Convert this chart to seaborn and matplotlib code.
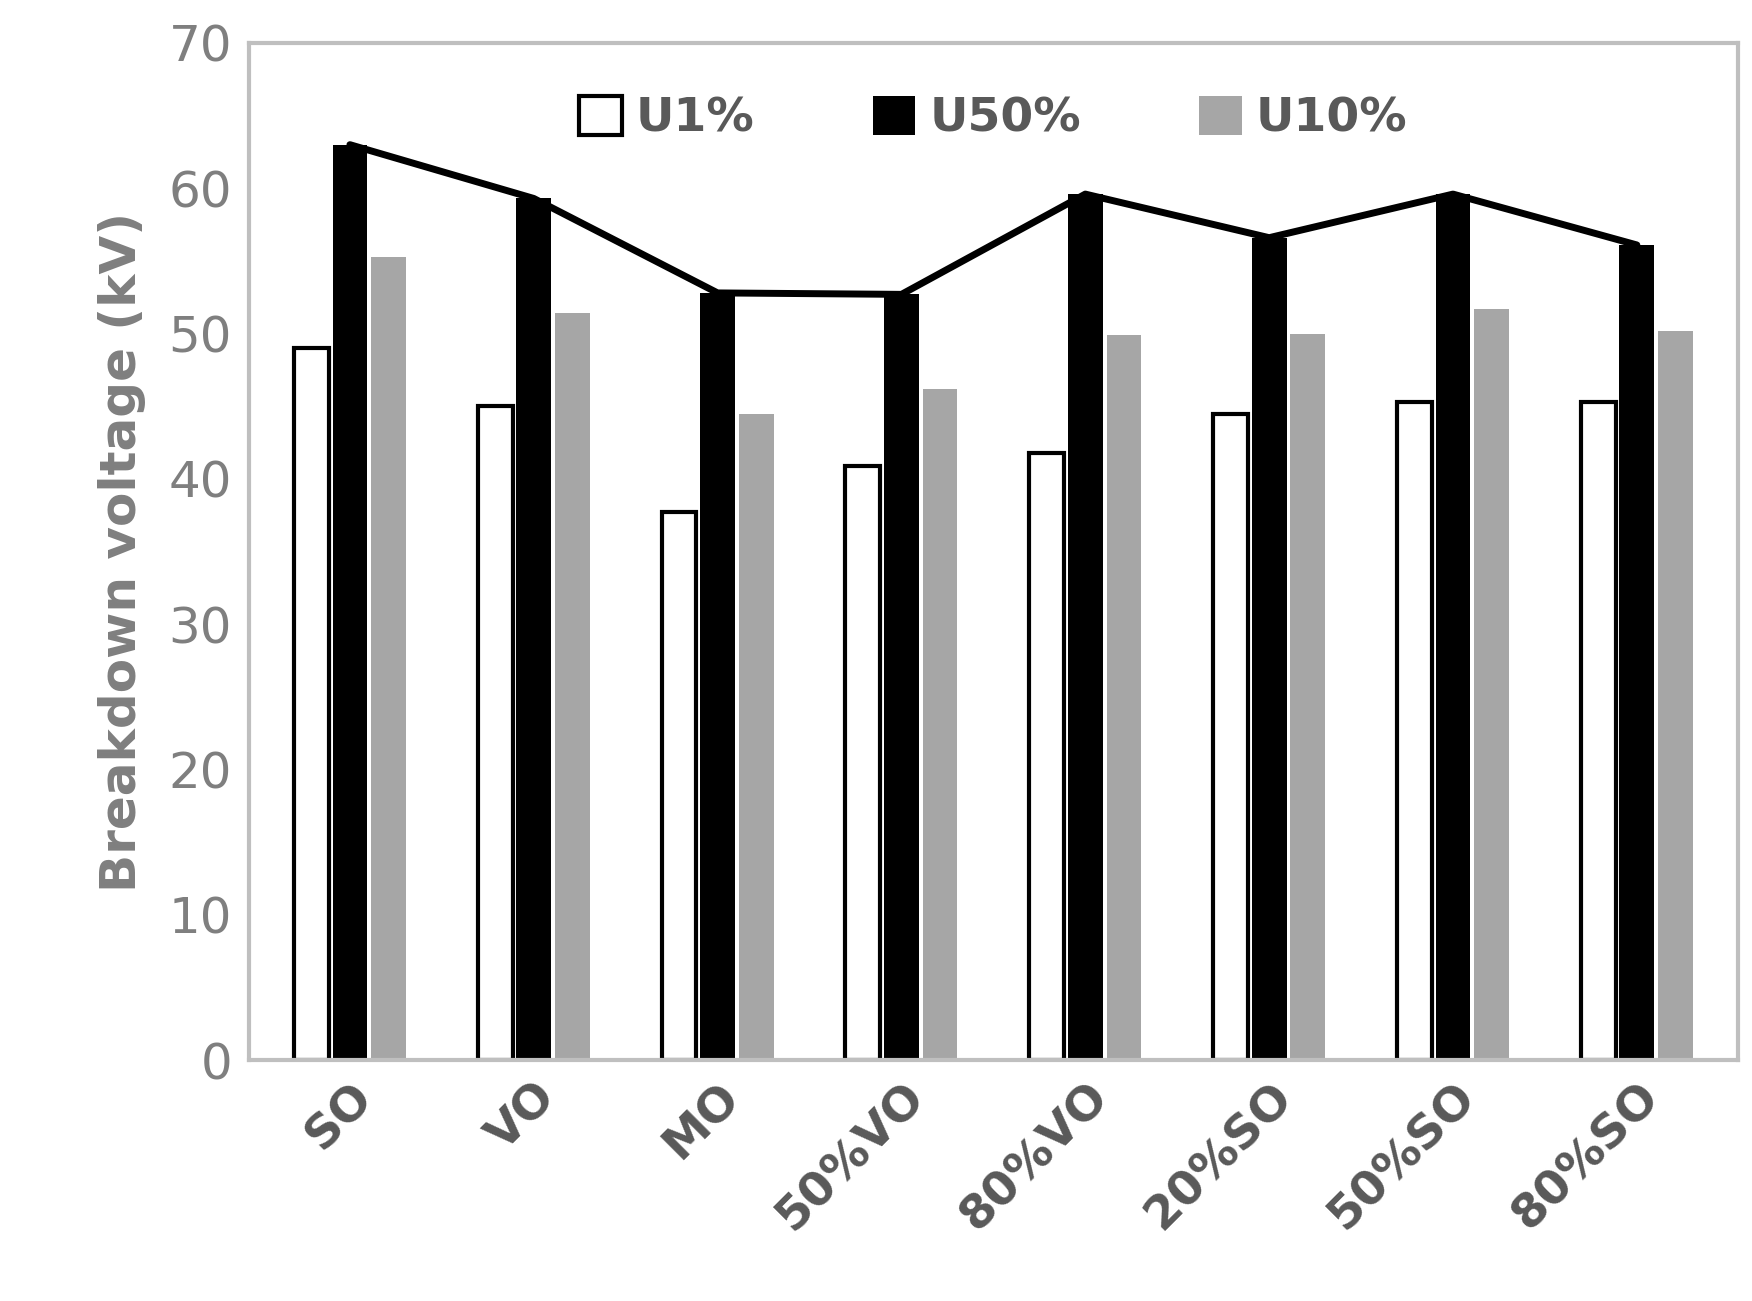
import numpy as np
import pandas as pd
import matplotlib
matplotlib.use("Agg")
import matplotlib.pyplot as plt
import seaborn as sns

categories = ["SO", "VO", "MO", "50%VO", "80%VO", "20%SO", "50%SO", "80%SO"]
u1 = [49.0, 45.0, 37.7, 40.9, 41.8, 44.5, 45.3, 45.3]
u50 = [63.0, 59.3, 52.8, 52.7, 59.6, 56.6, 59.6, 56.1]
u10 = [55.3, 51.4, 44.5, 46.2, 49.9, 50.0, 51.7, 50.2]
series = ["U1%", "U50%", "U10%"]

sns.set_theme(style="white")
plt.rcParams['font.family'] = ['DejaVu Sans']

df = pd.DataFrame({
    "cat": categories * 3,
    "val": u1 + u50 + u10,
    "ser": [series[0]] * 8 + [series[1]] * 8 + [series[2]] * 8,
})

fig = plt.figure(figsize=(17.52, 13.01), dpi=100)
ax = fig.add_axes([0.142, 0.185, 0.85, 0.782])
palette = {"U1%": "white", "U50%": "black", "U10%": "#a6a6a6"}
sns.barplot(data=df, x="cat", y="val", hue="ser", palette=palette, width=0.63,
            ax=ax, order=categories, hue_order=series, saturation=1)

for p in ax.patches:
    w = p.get_width()
    p.set_x(p.get_x() + w * 0.05)
    p.set_width(w * 0.9)
    fc = p.get_facecolor()
    if fc[0] > 0.95 and fc[1] > 0.95:
        p.set_edgecolor("black"); p.set_linewidth(3)
    else:
        p.set_edgecolor("none")

sns.lineplot(x=np.arange(len(categories)), y=u50, color="black", linewidth=5, ax=ax, legend=False)

ax.set_ylim(0, 70)
ax.set_xlim(-0.55, 7.55)
ax.set_yticks(range(0, 71, 10))
ax.tick_params(axis="y", labelsize=36, labelcolor="#7f7f7f", length=0, pad=12)
ax.tick_params(axis="x", length=0, pad=10)
ax.set_xticks(range(len(categories)))
ax.set_xticklabels(categories, rotation=45, ha="right", rotation_mode="anchor",
                   fontsize=34, fontweight="bold", color="#595959")
ax.set_xlabel("")
ax.set_ylabel("Breakdown voltage (kV)", fontsize=36, fontweight="bold", color="#7f7f7f", labelpad=16)
for s in ax.spines.values():
    s.set_color("#bfbfbf"); s.set_linewidth(3)

leg = ax.legend(loc="upper center", ncol=3, frameon=False,
                prop={"weight": "bold", "size": 34}, handlelength=0.9, handleheight=0.9,
                columnspacing=2.5, handletextpad=0.3, bbox_to_anchor=(0.5, 0.99))
for t in leg.get_texts():
    t.set_color("#595959")
for h in leg.legend_handles:
    if h.get_facecolor()[0] > 0.95:
        h.set_edgecolor("black"); h.set_linewidth(3)

fig.savefig("out.png", dpi=100)
